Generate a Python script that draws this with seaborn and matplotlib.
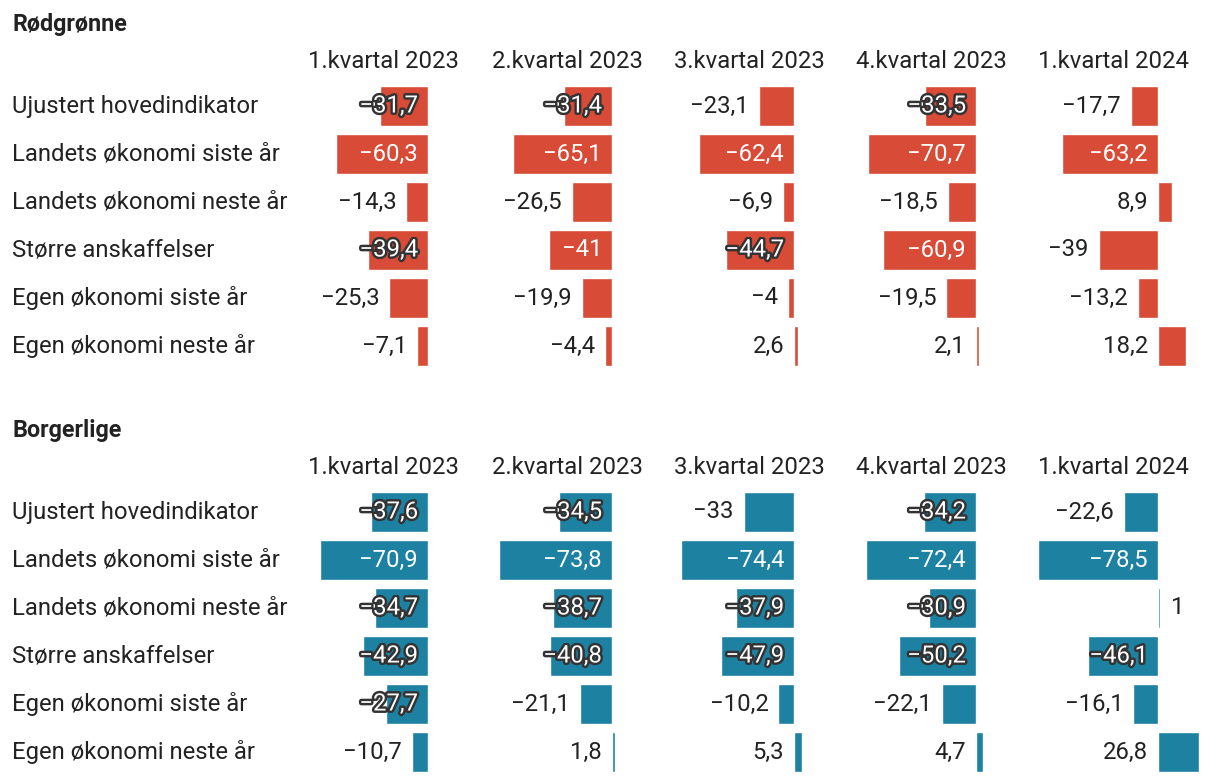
import numpy as np
import pandas as pd
import matplotlib.pyplot as plt
import matplotlib.patheffects as pe
import seaborn as sns

# data
quarters = ["1.kvartal 2023", "2.kvartal 2023", "3.kvartal 2023", "4.kvartal 2023", "1.kvartal 2024"]
indicators = ["Ujustert hovedindikator", "Landets økonomi siste år", "Landets økonomi neste år",
              "Større anskaffelser", "Egen økonomi siste år", "Egen økonomi neste år"]

# one list per quarter, values in the order of `indicators`
rodgronne = [
    [-31.7, -60.3, -14.3, -39.4, -25.3, -7.1],
    [-31.4, -65.1, -26.5, -41.0, -19.9, -4.4],
    [-23.1, -62.4, -6.9, -44.7, -4.0, 2.6],
    [-33.5, -70.7, -18.5, -60.9, -19.5, 2.1],
    [-17.7, -63.2, 8.9, -39.0, -13.2, 18.2],
]
borgerlige = [
    [-37.6, -70.9, -34.7, -42.9, -27.7, -10.7],
    [-34.5, -73.8, -38.7, -40.8, -21.1, 1.8],
    [-33.0, -74.4, -37.9, -47.9, -10.2, 5.3],
    [-34.2, -72.4, -30.9, -50.2, -22.1, 4.7],
    [-22.6, -78.5, 1.0, -46.1, -16.1, 26.8],
]
sections = ["Rødgrønne", "Borgerlige"]
section_values = [rodgronne, borgerlige]
section_colors = ["#d84b37", "#1d81a2"]

rows = []
for sec, vals in zip(sections, section_values):
    for q, qvals in zip(quarters, vals):
        for ind, v in zip(indicators, qvals):
            rows.append({"Gruppe": sec, "Kvartal": q, "Indikator": ind, "Verdi": v})
df = pd.DataFrame(rows)

sns.set_style("white")
plt.rcParams["font.family"] = ["Roboto", "DejaVu Sans"]

W, H = 1220, 782
fig = plt.figure(figsize=(W / 100, H / 100), dpi=100)

TEXT = "#222222"
FS = 17.2
PX_PER_UNIT = 1.525
zeros = [428, 612, 794, 976, 1158]   # x pixel of zero line per quarter
sec_top = [82, 488]                   # top pixel of first row per section
ROW_H = 48
LEFT_PX, RIGHT_PX = 130, 52
OFF = 7.2  # 10 px in points


def fmt(v):
    s = f"{abs(v):g}".replace(".", ",")
    return ("\u2212" + s) if v < 0 else s


def label_mode(v, txt):
    short = "," not in txt
    if v > 0:
        return "right" if v <= 1 else "outside"
    if abs(v) <= 27 or (short and abs(v) <= 40):
        return "outside"
    if abs(v) >= (40 if short else 55):
        return "inside"
    return "halo"


def px_axes(x0, y0, w, h):
    return fig.add_axes([x0 / W, 1 - (y0 + h) / H, w / W, h / H])


for s, sec in enumerate(sections):
    top = sec_top[s]
    fig.text(12 / W, 1 - (top - 57) / H, sec, fontsize=FS - 0.4, fontweight="bold",
             color=TEXT, ha="left", va="center")
    for i, ind in enumerate(indicators):
        fig.text(12 / W, 1 - (top + ROW_H * i + ROW_H / 2) / H, ind, fontsize=FS,
                 color=TEXT, ha="left", va="center")

    for c, q in enumerate(quarters):
        z = zeros[c]
        fig.text((z + 31) / W, 1 - (top - 20) / H, q, fontsize=FS, color=TEXT,
                 ha="right", va="center")
        ax = px_axes(z - LEFT_PX, top, LEFT_PX + RIGHT_PX, ROW_H * len(indicators))
        sub = df[(df["Gruppe"] == sec) & (df["Kvartal"] == q)]
        sns.barplot(data=sub, x="Verdi", y="Indikator", order=indicators, orient="h",
                    color=section_colors[s], saturation=1, width=40 / 48, ax=ax)
        ax.set_xlim(-LEFT_PX / PX_PER_UNIT, RIGHT_PX / PX_PER_UNIT)
        ax.set_ylim(len(indicators) - 0.5, -0.5)
        ax.axis("off")

        for i, v in enumerate(sub["Verdi"]):
            txt = fmt(v)
            mode = label_mode(v, txt)
            if mode == "right":
                ax.annotate(txt, xy=(v, i), xytext=(OFF * 1.1, 0), textcoords="offset points",
                            ha="left", va="center", fontsize=FS, color=TEXT)
            elif mode == "outside":
                anchor = min(v, 0)
                ax.annotate(txt, xy=(anchor, i), xytext=(-OFF, 0), textcoords="offset points",
                            ha="right", va="center", fontsize=FS, color=TEXT)
            elif mode == "inside":
                ax.annotate(txt, xy=(0, i), xytext=(-OFF, 0), textcoords="offset points",
                            ha="right", va="center", fontsize=FS, color="white")
            else:
                ax.annotate(txt, xy=(0, i), xytext=(-OFF, 0), textcoords="offset points",
                            ha="right", va="center", fontsize=FS, color="white",
                            path_effects=[pe.Stroke(linewidth=3.5, foreground="#333333"),
                                          pe.Normal()])

fig.savefig("out.png", dpi=100)
